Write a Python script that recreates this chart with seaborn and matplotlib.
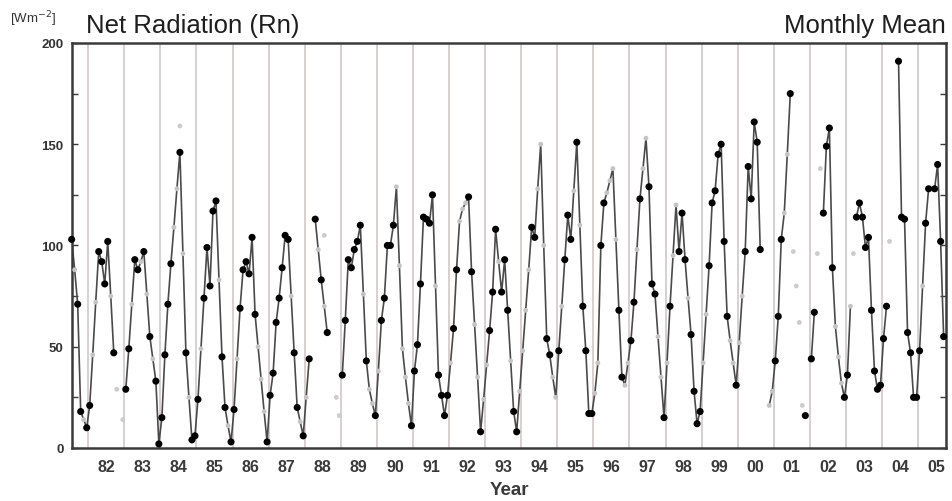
import numpy as np
import pandas as pd
import seaborn as sns
import matplotlib.pyplot as plt
from matplotlib.ticker import MultipleLocator

N = None

# monthly net radiation [W m-2], Jan..Dec, one row per year (1981-2005)
rn = [
    N, N, N, N, N, N, 103, 88, 71, 18, 14, 10,            # 1981
    21, 46, 72, 97, 92, 81, 102, 75, 47, N, N, N,         # 1982
    29, 49, 71, 93, 88, 92, 97, 76, 55, 44, 33, 2,        # 1983
    15, 46, 71, 91, 109, 128, 146, 96, 47, 25, 4, 6,      # 1984
    24, 49, 74, 99, 80, 117, 122, 83, 45, 20, 11, 3,      # 1985
    19, 44, 69, 88, 92, 86, 104, 66, 50, 34, 18, 3,       # 1986
    26, 37, 62, 74, 89, 105, 103, 75, 47, 20, 13, 6,      # 1987
    25, 44, N, 113, 98, 83, 70, 57, N, N, N, N,           # 1988
    36, 63, 93, 89, 98, 102, 110, 76, 43, 29, 22, 16,     # 1989
    38, 63, 74, 100, 100, 110, 129, 90, 49, 35, 22, 11,   # 1990
    38, 51, 81, 114, 113, 111, 125, 80, 36, 26, 16, 26,   # 1991
    42, 59, 88, 112, 118, 121, 124, 87, 61, 35, 8, 24,    # 1992
    41, 58, 77, 108, 92, 77, 93, 68, 43, 18, 8, 28,       # 1993
    48, 68, 88, 109, 104, 128, 150, 100, 54, 46, 35, 25,  # 1994
    48, 70, 93, 115, 103, 127, 151, 110, 70, 48, 17, 17,  # 1995
    27, 42, 100, 121, 126, 132, 138, 103, 68, 35, 31, 42, # 1996
    53, 72, 98, 123, 138, 153, 129, 81, 76, 55, 35, 15,   # 1997
    42, 70, 95, 120, 97, 116, 93, 74, 56, 28, 12, 18,     # 1998
    42, 66, 90, 121, 127, 145, 150, 102, 65, 53, 42, 31,  # 1999
    52, 75, 97, 139, 123, 161, 151, 98, N, N, 21, 28,     # 2000
    43, 65, 103, 116, 145, 175, N, N, N, N, 16, N,        # 2001
    44, 67, N, N, 116, 149, 158, 89, 60, 45, 32, 25,      # 2002
    36, 70, N, 114, 121, 114, 99, 104, 68, 38, 29, 31,    # 2003
    54, 70, N, N, N, 191, 114, 113, 57, 47, 25, 25,       # 2004
    48, 80, 111, 128, 128, 128, 140, 102, 55, N, N, N,    # 2005
]

# o = observed (black), f = gap filled (grey), . = no data
kind = "".join([
    "......ofoofo",  # 1981
    "offoooofo...",  # 1982
    "oofoofofofoo",  # 1983
    "ooooffofofoo",  # 1984
    "ofooooofoofo",  # 1985
    "ofoooooofffo",  # 1986
    "ooooooofoofo",  # 1987
    "fo.ofofo....",  # 1988
    "ooooooofoffo",  # 1989
    "fooooofffffo",  # 1990
    "ooooooofoooo",  # 1991
    "foofffooffof",  # 1992
    "fooofooofoof",  # 1993
    "fffoofffooff",  # 1994
    "ofooofofoooo",  # 1995
    "ffooffffooff",  # 1996
    "oofoffoooffo",  # 1997
    "foffooofoooo",  # 1998
    "ffoooooooffo",  # 1999
    "ffoooooo..ff",  # 2000
    "oooffo....o.",  # 2001
    "oo..oooofffo",  # 2002
    "of.ooooooooo",  # 2003
    "oo...ooooooo",  # 2004
    "ofoofoooo...",  # 2005
])

# other grey estimates off the line
extra_months = ["1982-10", "1982-12", "1984-07", "1988-07", "1988-11", "1988-12",
                "2001-07", "2001-08", "2001-09", "2001-10", "2002-03", "2002-04",
                "2003-03", "2004-03"]
extra_rn = [29, 14, 159, 105, 25, 16, 97, 80, 62, 21, 96, 138, 96, 102]

years = np.repeat(np.arange(1981, 2006), 12)
months = np.tile(np.arange(1, 13), 25)
df = pd.DataFrame({"t": years + (months - 0.5) / 12,
                   "rn": pd.to_numeric(pd.Series(rn, dtype="object")),
                   "kind": list(kind)})
df["seg"] = df["rn"].isna().cumsum()
line_df = df.dropna(subset=["rn"])

extra = pd.DataFrame({"m": pd.to_datetime(extra_months), "rn": extra_rn})
extra["t"] = extra["m"].dt.year + (extra["m"].dt.month - 0.5) / 12

sns.set_style("ticks")
plt.rcParams["font.family"] = ["Liberation Sans", "DejaVu Sans"]

fig = plt.figure(figsize=(9.52, 5.02), dpi=100)
ax = fig.add_axes([0.0756, 0.1056, 0.9181, 0.8068])

for y in range(1982, 2006):
    ax.axvline(y, color="#d6d0d0", lw=1.4, zorder=0)

sns.lineplot(data=line_df, x="t", y="rn", units="seg", estimator=None, sort=False,
             color="#4a4a4a", lw=1.2, ax=ax, zorder=2)
sns.scatterplot(data=extra, x="t", y="rn", color="#cccccc", s=12, edgecolor="none",
                ax=ax, zorder=1)
sns.scatterplot(data=df[df["kind"] == "f"], x="t", y="rn", color="#c4c4c4", s=12,
                edgecolor="none", ax=ax, zorder=3)
sns.scatterplot(data=df[df["kind"] == "o"], x="t", y="rn", color="black", s=26,
                edgecolor="none", ax=ax, zorder=4, clip_on=False)

ax.set_xlim(1981.55, 2005.774)
ax.set_ylim(0, 200)
ax.set_xticks([y + 0.5 for y in range(1982, 2006)])
ax.set_xticklabels([f"{y % 100:02d}" for y in range(1982, 2006)])
ax.yaxis.set_major_locator(MultipleLocator(50))
ax.yaxis.set_minor_locator(MultipleLocator(25))
ax.tick_params(axis="x", length=0, pad=8, labelsize=11.5, labelcolor="#3a3a3a")
ax.tick_params(axis="y", which="both", direction="in", length=4, width=1,
               right=True, color="#3a3a3a", labelsize=9.5, labelcolor="#333333", pad=6)
for lab in ax.get_yticklabels() + ax.get_xticklabels():
    lab.set_fontweight("bold")
for sp in ax.spines.values():
    sp.set_visible(True)
    sp.set_color("#3a3a3a")
    sp.set_linewidth(1.8)

ax.set_xlabel("Year", fontsize=13.5, fontweight="bold", color="#3a3a3a", labelpad=5)
ax.set_ylabel("")

fig.text(86 / 952, 0.935, "Net Radiation (Rn)", fontsize=18.5, color="#1e1e1e",
         ha="left", va="baseline")
fig.text(946 / 952, 0.935, "Monthly Mean", fontsize=18.5, color="#1e1e1e",
         ha="right", va="baseline")
fig.text(0.010, 1 - 23 / 502, "[Wm$^{-2}$]", fontsize=9.5, color="#333333",
         ha="left", va="baseline")

fig.savefig("out.png", dpi=100)
